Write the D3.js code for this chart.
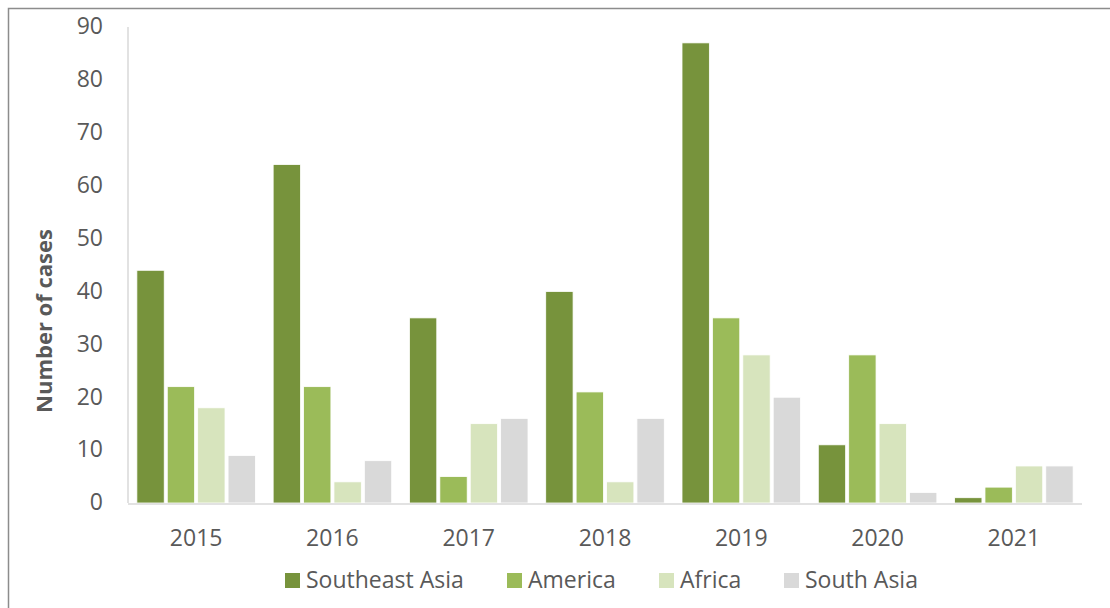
<!DOCTYPE html>
<html><head><meta charset="utf-8">
<script src="https://cdn.jsdelivr.net/npm/d3@7"></script>
<style>body{margin:0;background:#fff}svg{display:block}</style>
</head><body>
<svg id="c" width="1110" height="608"></svg>
<script>
const years = ["2015","2016","2017","2018","2019","2020","2021"];
const seriesNames = ["Southeast Asia","America","Africa","South Asia"];
const southeastAsia = [44,64,35,40,87,11,1];
const america = [22,22,5,21,35,28,3];
const africa = [18,4,15,4,28,15,7];
const southAsia = [9,8,16,16,20,2,7];
const yTicks = [0,10,20,30,40,50,60,70,80,90];
const colors = ["#77933C","#9BBB59","#D7E4BD","#D9D9D9"];

const values = [southeastAsia, america, africa, southAsia];
const svg = d3.select("#c");
const font = "'Open Sans', sans-serif";

// frame
svg.append("rect").attr("x",8.5).attr("y",8.5).attr("width",1110).attr("height",620)
  .attr("fill","none").attr("stroke","#8c8c8c").attr("stroke-width",1.5);

const pLeft=128, pRight=1082, pTop=27, pBottom=503;
const x = d3.scaleBand().domain(years).range([pLeft,pRight]).paddingInner(0.13).paddingOuter(0.065);
const xs = d3.scaleBand().domain(seriesNames).range([0,x.bandwidth()]).paddingInner(0.1);
const y = d3.scaleLinear().domain([0,90]).range([pBottom,pTop]);

// y axis line
svg.append("line").attr("x1",pLeft).attr("x2",pLeft).attr("y1",pTop).attr("y2",pBottom)
  .attr("stroke","#d9d9d9").attr("stroke-width",1.5);

const g = svg.append("g");
years.forEach((yr,i)=>{
  seriesNames.forEach((s,j)=>{
    const v = values[j][i];
    g.append("rect").attr("x",x(yr)+xs(s)).attr("y",y(v))
      .attr("width",xs.bandwidth()).attr("height",y(0)-y(v))
      .attr("fill",colors[j]).attr("stroke","#fff").attr("stroke-width",0.8);
  });
});

// x axis line
svg.append("line").attr("x1",pLeft).attr("x2",pRight).attr("y1",pBottom+1).attr("y2",pBottom+1)
  .attr("stroke","#d9d9d9").attr("stroke-width",1.5);

// y ticks
svg.append("g").selectAll("text").data(yTicks).join("text")
  .attr("x",103).attr("y",d=>y(d)-1).attr("dy","0.36em").attr("text-anchor","end")
  .attr("font-family",font).attr("font-size",23).attr("fill","#595959").text(d=>d);

// x labels
svg.append("g").selectAll("text").data(years).join("text")
  .attr("x",d=>x(d)+x.bandwidth()/2).attr("y",546).attr("text-anchor","middle")
  .attr("font-family",font).attr("font-size",23).attr("fill","#595959").text(d=>d);

// y title
svg.append("text").attr("transform","translate(52,321) rotate(-90)")
  .attr("text-anchor","middle").attr("font-family",font).attr("font-size",22)
  .attr("font-weight","bold").attr("fill","#595959").text("Number of cases");

// legend
const legX = [285,507,659,784];
const lg = svg.append("g");
seriesNames.forEach((s,j)=>{
  lg.append("rect").attr("x",legX[j]).attr("y",573).attr("width",15).attr("height",15).attr("fill",colors[j]);
  lg.append("text").attr("x",legX[j]+21).attr("y",588)
    .attr("font-family",font).attr("font-size",23).attr("fill","#595959").text(s);
});
</script>
</body></html>
